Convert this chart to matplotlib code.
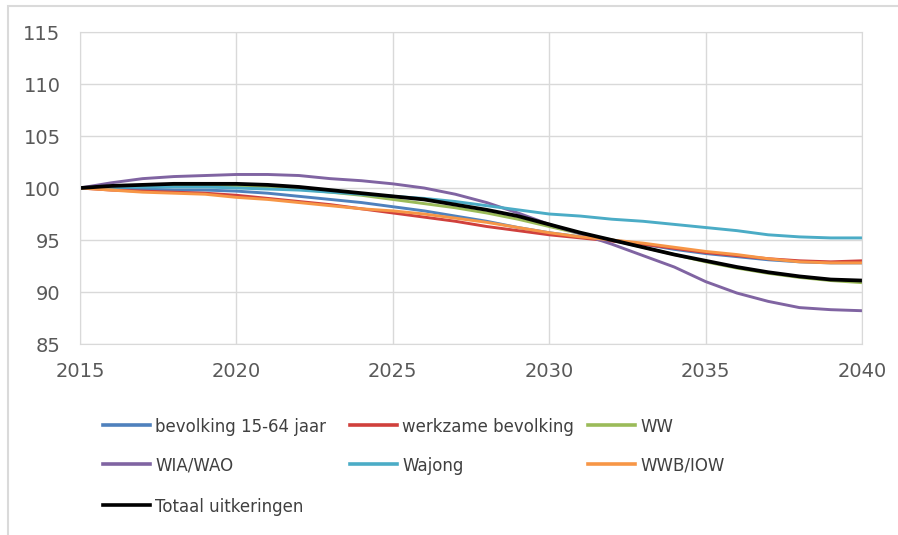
import matplotlib
matplotlib.use("Agg")
import matplotlib.pyplot as plt
from matplotlib.patches import Rectangle
from matplotlib.lines import Line2D

# ── Data (index, 2015 = 100) ──────────────────────────────────────────────────
years = list(range(2015, 2041))

bevolking = [100.0, 99.9, 99.9, 99.8, 99.8, 99.7, 99.5, 99.2, 98.9, 98.6,
             98.2, 97.8, 97.3, 96.8, 96.2, 95.7, 95.3, 95.0, 94.6, 94.1,
             93.7, 93.4, 93.1, 92.9, 92.8, 92.8]
werkzame = [100.0, 99.8, 99.7, 99.6, 99.5, 99.3, 99.0, 98.7, 98.4, 98.0,
            97.6, 97.2, 96.8, 96.3, 95.9, 95.5, 95.2, 94.9, 94.6, 94.2,
            93.8, 93.5, 93.2, 93.0, 92.9, 93.0]
ww = [100.0, 100.1, 100.2, 100.2, 100.2, 100.2, 100.1, 99.9, 99.6, 99.3,
      98.9, 98.5, 98.1, 97.6, 97.0, 96.3, 95.6, 95.0, 94.3, 93.6,
      92.9, 92.3, 91.8, 91.4, 91.1, 90.9]
wia_wao = [100.0, 100.5, 100.9, 101.1, 101.2, 101.3, 101.3, 101.2, 100.9, 100.7,
           100.4, 100.0, 99.4, 98.6, 97.6, 96.5, 95.6, 94.6, 93.5, 92.4,
           91.0, 89.9, 89.1, 88.5, 88.3, 88.2]
wajong = [100.0, 100.1, 100.1, 100.1, 100.1, 100.0, 99.9, 99.8, 99.6, 99.4,
          99.2, 99.0, 98.7, 98.3, 97.9, 97.5, 97.3, 97.0, 96.8, 96.5,
          96.2, 95.9, 95.5, 95.3, 95.2, 95.2]
wwb_iow = [100.0, 99.8, 99.6, 99.5, 99.4, 99.1, 98.9, 98.6, 98.3, 98.0,
           97.8, 97.5, 97.1, 96.7, 96.2, 95.7, 95.3, 95.0, 94.7, 94.3,
           93.9, 93.6, 93.2, 92.9, 92.8, 92.8]
totaal = [100.0, 100.2, 100.3, 100.4, 100.4, 100.4, 100.3, 100.1, 99.8, 99.5,
          99.2, 98.9, 98.4, 97.9, 97.3, 96.5, 95.7, 95.0, 94.3, 93.6,
          93.0, 92.4, 91.9, 91.5, 91.2, 91.1]

series = [
    ("bevolking 15-64 jaar", bevolking, "#4F81BD", 2.1),
    ("werkzame bevolking", werkzame, "#D0403C", 2.1),
    ("WW", ww, "#9BBB59", 2.1),
    ("WIA/WAO", wia_wao, "#8064A2", 2.1),
    ("Wajong", wajong, "#4BACC6", 2.1),
    ("WWB/IOW", wwb_iow, "#F79646", 2.1),
    ("Totaal uitkeringen", totaal, "#000000", 2.7),
]

xticks = [2015, 2020, 2025, 2030, 2035, 2040]
yticks = [85, 90, 95, 100, 105, 110, 115]

# ── Figure ───────────────────────────────────────────────────────────────────
W, H = 898, 535
TEXT = "#595959"
GRID = "#D9D9D9"

fig = plt.figure(figsize=(W / 100, H / 100), dpi=100)
fig.patches.append(Rectangle((8 / W, -0.1), 1.2, 1 - 6 / H + 0.1,
                             transform=fig.transFigure, fill=False,
                             edgecolor="#DADADA", linewidth=1.5))

ax = fig.add_axes([80 / W, 1 - 344 / H, (862 - 80) / W, (344 - 32) / H])

for name, vals, color, lw in series:
    ax.plot(years, vals, color=color, linewidth=lw, label=name,
            solid_capstyle="round", solid_joinstyle="round")

ax.set_xlim(2015, 2040)
ax.set_ylim(85, 115)
ax.set_xticks(xticks)
ax.set_yticks(yticks)
ax.grid(True, color=GRID, linewidth=1.0)
ax.set_axisbelow(True)
for sp in ax.spines.values():
    sp.set_color(GRID)
ax.tick_params(length=0, labelsize=14, labelcolor=TEXT)
ax.tick_params(axis="y", pad=14)
ax.tick_params(axis="x", pad=13)

# ── Legend, Excel style: 3 fixed columns, filled row by row ──────────────────
col_x = [103, 350, 588]
row_y = [425, 464, 505]
for i, (name, _, color, lw) in enumerate(series):
    r, c = divmod(i, 3)
    x0, y0 = col_x[c], row_y[r]
    fig.add_artist(Line2D([x0 / W, (x0 + 47) / W], [1 - y0 / H, 1 - y0 / H],
                          transform=fig.transFigure, color=color,
                          linewidth=2.6))
    fig.text((x0 + 52) / W, 1 - y0 / H, name, fontsize=12, color="#404040",
             ha="left", va="center_baseline")

fig.savefig("out.png", dpi=100)
